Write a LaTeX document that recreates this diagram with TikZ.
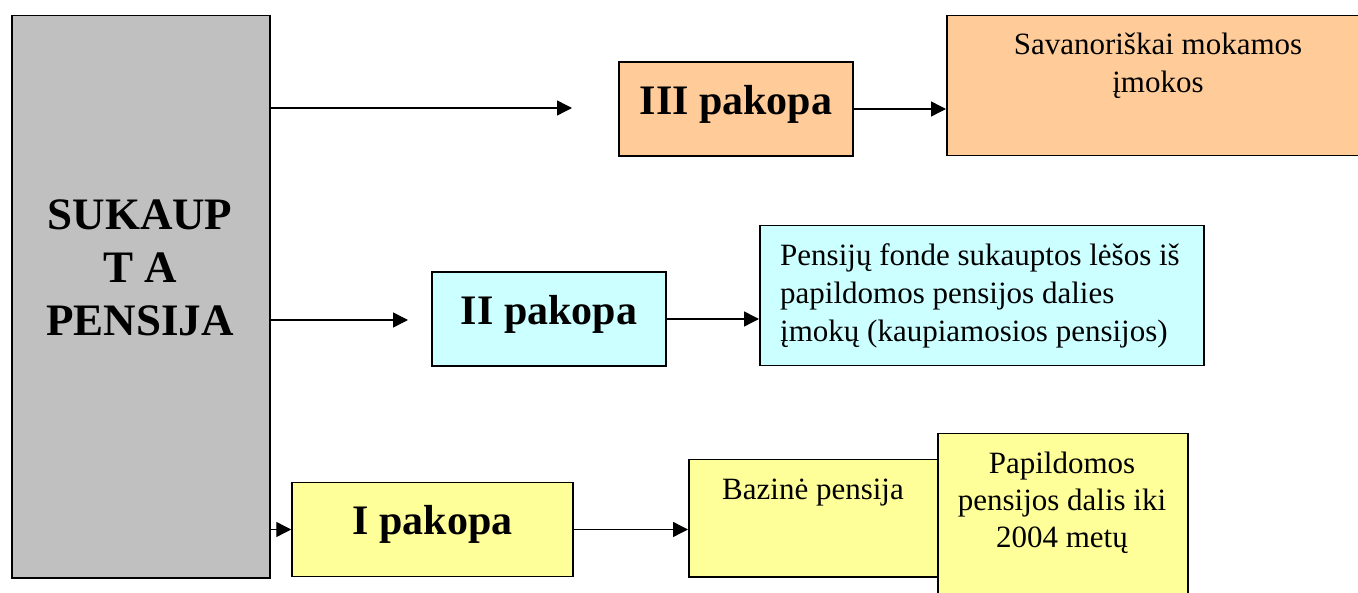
\documentclass[tikz,border=0pt]{standalone}
\usepackage{fontspec}
\setmainfont{Liberation Serif}
\usetikzlibrary{arrows.meta}
\definecolor{pilka}{HTML}{C0C0C0}
\definecolor{oranzine}{HTML}{FFCC99}
\definecolor{zydra}{HTML}{CCFFFF}
\definecolor{geltona}{HTML}{FFFF99}
\tikzset{
box/.style={draw, line width=1.5pt, inner sep=0pt, anchor=north west},
pakopa/.style={draw, line width=1.5pt, inner sep=0pt, minimum width=234, minimum height=94, font=\fontsize{42}{50}\selectfont\bfseries, text depth=19pt},
txt/.style={inner sep=0pt, align=center, font=\fontsize{31}{38}\selectfont},
arr/.style={line width=1.4pt, -{Triangle[length=15pt,width=15pt]}}
}

\begin{document}
\begin{tikzpicture}[x=1pt,y=-1pt]
\useasboundingbox (0,0) rectangle (1358,593);
\node[box, fill=pilka, minimum width=258, minimum height=562] (sukaupta) at (11,15) {};
\node[txt, font=\fontsize{45}{53}\selectfont\bfseries, anchor=north] (sukaupta tekstas) at (140,200) {SUKAUP\\T A\\PENSIJA};

\node[pakopa, fill=oranzine] (p3) at (736,109) {III pakopa};
\node[pakopa, fill=zydra] (p2) at (549,319) {II pakopa};
\node[pakopa, fill=geltona, minimum width=281] (p1) at (432.5,529.5) {I pakopa};

\node[box, fill=oranzine, minimum width=424, minimum height=140] (sav) at (946,15) {};
\node[txt, anchor=north] (sav tekstas) at (1158,33) {Savanoriškai mokamos\\įmokos};
\node[box, fill=zydra, minimum width=444, minimum height=140] (fond) at (759,225) {};
\node[txt, align=left, anchor=north west] (fond tekstas) at (780,243) {Pensijų fonde sukauptos lėšos iš\\papildomos pensijos dalies\\įmokų (kaupiamosios pensijos)};
\node[box, fill=geltona, minimum width=272, minimum height=117] (baz) at (688,459) {};
\node[txt, anchor=base] (baz tekstas) at (813,500) {Bazinė pensija};
\node[box, fill=geltona, minimum width=250, minimum height=175] (pap) at (937,433) {};
\node[txt, font=\fontsize{31}{37}\selectfont, anchor=north] (pap tekstas) at (1062,452) {Papildomos\\pensijos dalis iki\\2004 metų};

\coordinate (a3) at (572,108);
\coordinate (a2) at (408,320);
\draw[arr] (sukaupta.east |- a3) -- (a3);
\draw[arr] (sukaupta.east |- a2) -- (a2);
\draw[arr] (sukaupta.east |- p1) -- (p1.west);
\draw[arr] (p3.east) -- (p3.east -| sav.west);
\draw[arr] (p2.east) -- (p2.east -| fond.west);
\draw[arr] (p1.east) -- (p1.east -| baz.west);
\end{tikzpicture}
\end{document}
